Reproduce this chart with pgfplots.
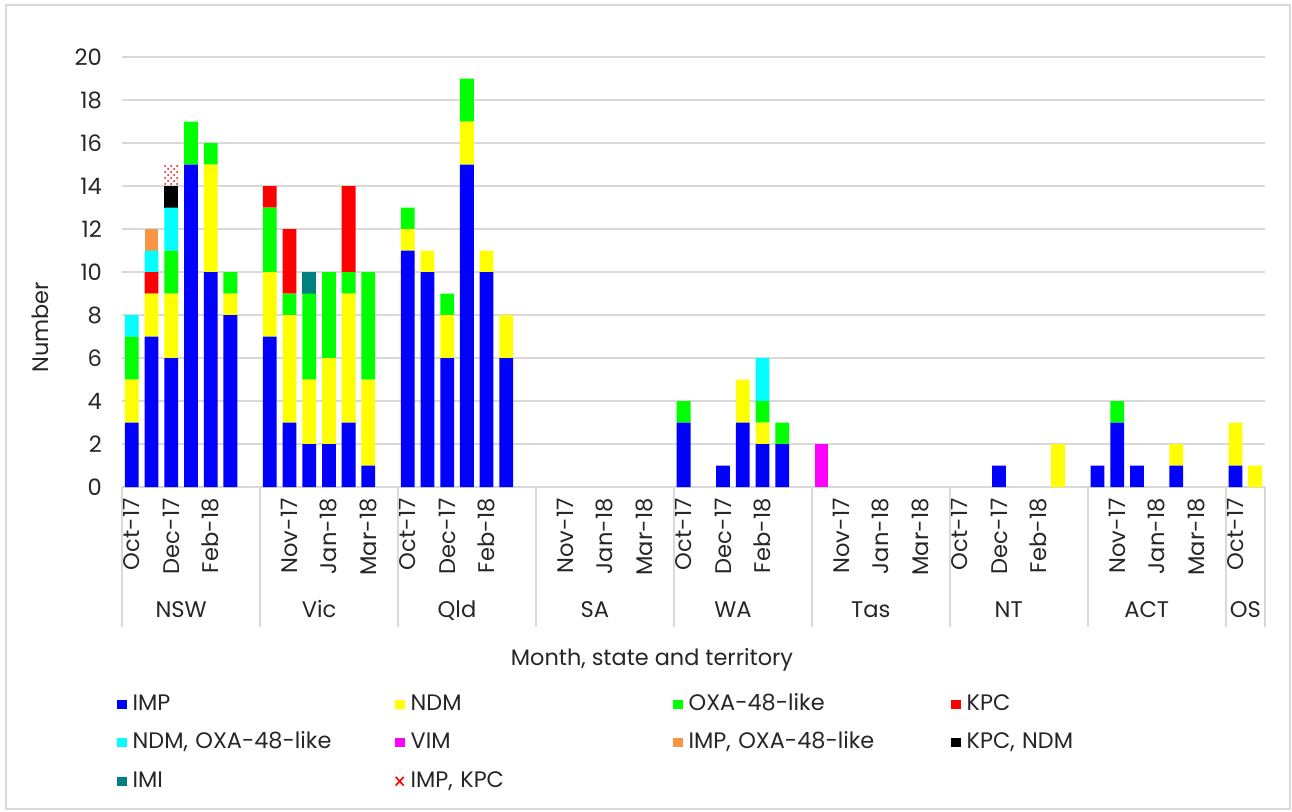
\documentclass[border=0pt]{standalone}
\usepackage{pgfplots}
\pgfplotsset{compat=1.18}
\usepackage{pgfplotstable}
\usepackage{fontspec}
\setmainfont{Poppins}
\usetikzlibrary{patterns}

\definecolor{impblue}{HTML}{0000FF}
\definecolor{ndmyellow}{HTML}{FFFF00}
\definecolor{oxagreen}{HTML}{00FF00}
\definecolor{kpcred}{HTML}{FF0000}
\definecolor{ndmoxa}{HTML}{00FFFF}
\definecolor{vimmag}{HTML}{FF00FF}
\definecolor{impoxa}{HTML}{F79646}
\definecolor{kpcndm}{HTML}{000000}
\definecolor{imiteal}{HTML}{008080}
\definecolor{gridgray}{HTML}{D9D9D9}
\definecolor{txt}{HTML}{262626}

% x = slot: 7 slots per state (Oct-17 .. Mar-18, then an empty gap)
\pgfplotstableread{
x  IMP NDM OXA KPC NO VIM IO KN IMI IK
0  3  2  2  0  1  0  0  0  0  0
1  7  2  0  1  1  0  1  0  0  0
2  6  3  2  0  2  0  0  1  0  1
3  15 0  2  0  0  0  0  0  0  0
4  10 5  1  0  0  0  0  0  0  0
5  8  1  1  0  0  0  0  0  0  0
7  7  3  3  1  0  0  0  0  0  0
8  3  5  1  3  0  0  0  0  0  0
9  2  3  4  0  0  0  0  0  1  0
10 2  4  4  0  0  0  0  0  0  0
11 3  6  1  4  0  0  0  0  0  0
12 1  4  5  0  0  0  0  0  0  0
14 11 1  1  0  0  0  0  0  0  0
15 10 1  0  0  0  0  0  0  0  0
16 6  2  1  0  0  0  0  0  0  0
17 15 2  2  0  0  0  0  0  0  0
18 10 1  0  0  0  0  0  0  0  0
19 6  2  0  0  0  0  0  0  0  0
28 3  0  1  0  0  0  0  0  0  0
30 1  0  0  0  0  0  0  0  0  0
31 3  2  0  0  0  0  0  0  0  0
32 2  1  1  0  2  0  0  0  0  0
33 2  0  1  0  0  0  0  0  0  0
35 0  0  0  0  0  2  0  0  0  0
44 1  0  0  0  0  0  0  0  0  0
47 0  2  0  0  0  0  0  0  0  0
49 1  0  0  0  0  0  0  0  0  0
50 3  0  1  0  0  0  0  0  0  0
51 1  0  0  0  0  0  0  0  0  0
53 1  1  0  0  0  0  0  0  0  0
56 1  2  0  0  0  0  0  0  0  0
57 0  1  0  0  0  0  0  0  0  0
}\cpedata

\pgfplotsset{
  sq/.style={fill=#1, draw=none,
    legend image code/.code={\fill[#1] (0pt,-2.2pt) rectangle (5pt,2.5pt);}},
}

\newcommand{\lblfont}{\fontsize{11.3}{13}\selectfont}
\newcommand{\ttlfont}{\fontsize{11.2}{13}\selectfont}

\begin{document}
\begin{tikzpicture}[every node/.append style={text=txt}]
\useasboundingbox (-61pt,-162pt) rectangle (585pt,243.5pt);
\draw[gridgray, line width=1pt] (-58pt,-161pt) rectangle (584pt,241pt);
\begin{axis}[
  at={(0pt,0pt)}, anchor=south west,
  scale only axis, width=571.5pt, height=215pt,
  clip=false,
  ybar stacked, bar width=0.7,
  xmin=-0.5, xmax=57.5, ymin=0, ymax=20,
  axis x line*=bottom, axis y line*=left,
  x axis line style={gridgray, line width=1pt, -},
  y axis line style={draw=none},
  ytick={0,2,...,20},
  ymajorgrids, grid style={gridgray, line width=1pt},
  tick style={draw=none},
  /pgf/number format/assume math mode=true,
  yticklabel style={font=\lblfont, xshift=-6.5pt},
  xtick={0,2,4,8,10,12,14,16,18,22,24,26,28,30,32,36,38,40,42,44,46,50,52,54,56},
  xticklabels={Oct-17,Dec-17,Feb-18,Nov-17,Jan-18,Mar-18,Oct-17,Dec-17,Feb-18,
    Nov-17,Jan-18,Mar-18,Oct-17,Dec-17,Feb-18,Nov-17,Jan-18,Mar-18,
    Oct-17,Dec-17,Feb-18,Nov-17,Jan-18,Mar-18,Oct-17},
  xticklabel style={font=\lblfont, rotate=90, anchor=east, inner xsep=5.5pt},
  xlabel={Month, state and territory},
  xlabel style={at={(axis description cs:0.4637,-0.402)}, anchor=center, font=\ttlfont},
  ylabel={Number},
  ylabel style={at={(axis description cs:-0.0717,0.372)}, anchor=center, font=\ttlfont},
  legend columns=4,
  legend cell align=left,
  legend style={
    at={(axis description cs:-0.005,-0.4805)}, anchor=north west,
    draw=none, fill=none, inner sep=0pt,
    font=\ttlfont,
    row sep=8.75pt,
    nodes={text width=128pt, align=left, inner xsep=3pt, inner ysep=0pt,
      text height=8pt, text depth=2.5pt},
  },
]
\addplot[sq=impblue]   table[x=x, y=IMP] {\cpedata};
\addlegendentry{IMP}
\addplot[sq=ndmyellow] table[x=x, y=NDM] {\cpedata};
\addlegendentry{NDM}
\addplot[sq=oxagreen]  table[x=x, y=OXA] {\cpedata};
\addlegendentry{OXA-48-like}
\addplot[sq=kpcred]    table[x=x, y=KPC] {\cpedata};
\addlegendentry{KPC}
\addplot[sq=ndmoxa]    table[x=x, y=NO] {\cpedata};
\addlegendentry{NDM, OXA-48-like}
\addplot[sq=vimmag]    table[x=x, y=VIM] {\cpedata};
\addlegendentry{VIM}
\addplot[sq=impoxa]    table[x=x, y=IO] {\cpedata};
\addlegendentry{IMP, OXA-48-like}
\addplot[sq=kpcndm]    table[x=x, y=KN] {\cpedata};
\addlegendentry{KPC, NDM}
\addplot[sq=imiteal]   table[x=x, y=IMI] {\cpedata};
\addlegendentry{IMI}
\addplot[draw=none, pattern=crosshatch dots, pattern color=kpcred,
  legend image code/.code={\draw[kpcred, line width=0.8pt]
    (0.5pt,-2pt) -- (4.5pt,2.3pt) (0.5pt,2.3pt) -- (4.5pt,-2pt);}]
  table[x=x, y=IK] {\cpedata};
\addlegendentry{IMP, KPC}

% separators of the state groups
\pgfplotsinvokeforeach{-0.5,6.5,13.5,20.5,27.5,34.5,41.5,48.5,55.5,57.5}{
  \draw[gridgray, line width=1pt] (axis cs:#1,0) -- ([yshift=-70pt]axis cs:#1,0);
}
% state labels
\node[anchor=base, font=\lblfont, yshift=-65pt] at (axis cs:2.5,0) {NSW};
\node[anchor=base, font=\lblfont, yshift=-65pt] at (axis cs:9.5,0) {Vic};
\node[anchor=base, font=\lblfont, yshift=-65pt] at (axis cs:16.5,0) {Qld};
\node[anchor=base, font=\lblfont, yshift=-65pt] at (axis cs:23.5,0) {SA};
\node[anchor=base, font=\lblfont, yshift=-65pt] at (axis cs:30.5,0) {WA};
\node[anchor=base, font=\lblfont, yshift=-65pt] at (axis cs:37.5,0) {Tas};
\node[anchor=base, font=\lblfont, yshift=-65pt] at (axis cs:44.5,0) {NT};
\node[anchor=base, font=\lblfont, yshift=-65pt] at (axis cs:51.5,0) {ACT};
\node[anchor=base, font=\lblfont, yshift=-65pt] at (axis cs:56.5,0) {OS};
\end{axis}
\end{tikzpicture}
\end{document}
